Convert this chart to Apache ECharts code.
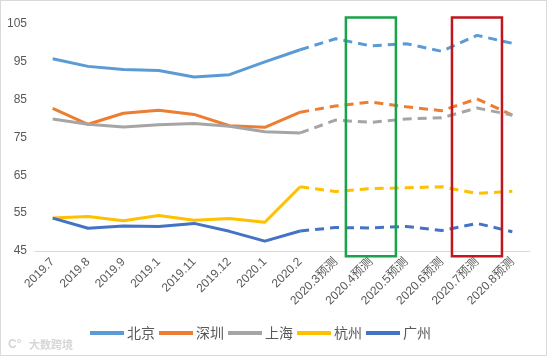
<!DOCTYPE html>
<html><head><meta charset="utf-8">
<script src="https://cdn.jsdelivr.net/npm/echarts@6/dist/echarts.min.js"></script>
<style>html,body{margin:0;padding:0;background:#fff}#c{width:547px;height:356px;box-sizing:border-box;border:1px solid #d9d9d9}</style>
</head><body><div id="c"></div>
<script>
const categories = ['2019.7','2019.8','2019.9','2019.1','2019.11','2019.12','2020.1','2020.2','2020.3预测','2020.4预测','2020.5预测','2020.6预测','2020.7预测','2020.8预测'];
const cities = ['北京','深圳','上海','杭州','广州'];
const beijing   = [95.8, 93.8, 93.0, 92.7, 91.0, 91.6, 95.0, 98.2, 101.1, 99.2, 99.8, 97.8, 102.0, 99.9];
const shenzhen  = [82.7, 78.5, 81.4, 82.2, 81.1, 78.1, 77.7, 81.7, 83.3, 84.4, 83.1, 82.1, 85.2, 80.9];
const shanghai  = [79.9, 78.5, 77.8, 78.4, 78.7, 78.0, 76.5, 76.2, 79.6, 79.0, 79.9, 80.2, 82.8, 80.9];
const hangzhou  = [53.7, 54.1, 53.0, 54.4, 53.1, 53.6, 52.6, 62.0, 60.7, 61.5, 61.7, 62.0, 60.2, 60.8];
const guangzhou = [53.7, 51.0, 51.6, 51.5, 52.3, 50.2, 47.6, 50.3, 51.2, 51.1, 51.5, 50.4, 52.3, 50.1];
const forecastStart = 7; // index of 2020.2, last actual month
const highlightGreen = '2020.4预测';
const highlightRed = '2020.7预测';
const yTicks = [45, 55, 65, 75, 85, 95, 105];

const colors = ['#5B9BD5','#ED7D31','#A5A5A5','#FFC000','#4472C4'];
const values = [beijing, shenzhen, shanghai, hangzhou, guangzhou];

const series = [];
cities.forEach((name, i) => {
  const v = values[i];
  series.push({
    name, type: 'line', symbol: 'none', smooth: false, z: 3,
    data: v.map((d, k) => k <= forecastStart ? d : null),
    lineStyle: { color: colors[i], width: 3 }, itemStyle: { color: colors[i] }
  });
  series.push({
    name: name + '预测', type: 'line', symbol: 'none', z: 3,
    data: v.map((d, k) => k >= forecastStart ? d : null),
    lineStyle: { color: colors[i], width: 3, type: [9, 6] }, itemStyle: { color: colors[i] }
  });
});

const chart = echarts.init(document.getElementById('c'));
chart.setOption({
  animation: false,
  grid: { left: 34, right: 16, top: 23, bottom: 104 },
  xAxis: {
    type: 'category', data: categories, boundaryGap: true,
    axisLine: { lineStyle: { color: '#d9d9d9', width: 1 } },
    axisTick: { show: false },
    axisLabel: { rotate: 45, color: '#595959', fontSize: 12, margin: 9, interval: 0, fontFamily: 'Liberation Sans, Noto Sans CJK SC' }
  },
  yAxis: {
    type: 'value', min: yTicks[0], max: yTicks[yTicks.length-1], interval: 10,
    axisLine: { show: false }, axisTick: { show: false }, splitLine: { show: false },
    axisLabel: { color: '#595959', fontSize: 12, margin: 8, fontFamily: 'Liberation Sans' }
  },
  legend: {
    data: cities, left: 84, top: 320, itemWidth: 34, itemHeight: 4, itemGap: 4,
    icon: 'rect',
    textStyle: { color: '#595959', fontSize: 14, fontFamily: 'Noto Sans CJK SC', padding: [0,0,0,-2] }
  },
  series
});

function drawBoxes() {
  const w = 50;
  const boxes = [[highlightGreen, '#1AA34A'], [highlightRed, '#C0161D']].map(([cat, col]) => {
    const top = chart.convertToPixel({ gridIndex: 0 }, [cat, 106.7]);
    const bot = chart.convertToPixel({ gridIndex: 0 }, [cat, 43.6]);
    return { type: 'rect', z: 10, shape: { x: top[0] - w/2, y: top[1], width: w, height: bot[1] - top[1] },
      style: { fill: 'none', stroke: col, lineWidth: 2.5 } };
  });
  boxes.push({ type: 'text', left: 7, top: 338, z: 10, style: { text: 'C°', fill: '#d6d6d6', font: 'bold 12px Liberation Sans' } });
  boxes.push({ type: 'text', left: 28, top: 338, z: 10, style: { text: '大数跨境', fill: '#d6d6d6', font: 'bold 11px Noto Sans CJK SC' } });
  chart.setOption({ graphic: boxes });
}
drawBoxes();
</script></body></html>
